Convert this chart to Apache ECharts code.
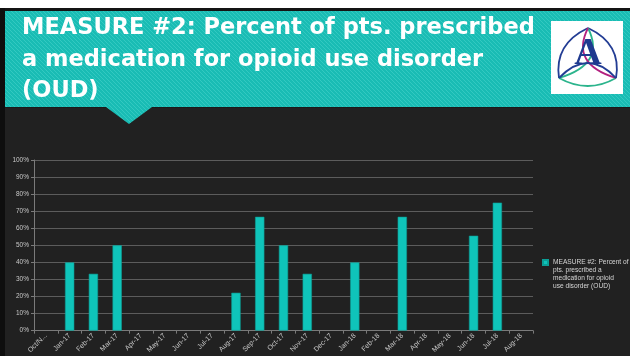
<!DOCTYPE html>
<html>
<head>
<meta charset="utf-8">
<script src="https://cdn.jsdelivr.net/npm/echarts@6/dist/echarts.min.js"></script>
<style>
html,body{margin:0;padding:0;background:#212121;}
#chart{width:630px;height:356px;}
</style>
</head>
<body>
<div id="chart"></div>
<script>
// ---- data ----
const categories = ['Oct/N...', 'Jan-17', 'Feb-17', 'Mar-17', 'Apr-17', 'May-17', 'Jun-17', 'Jul-17',
  'Aug-17', 'Sep-17', 'Oct-17', 'Nov-17', 'Dec-17', 'Jan-18', 'Feb-18', 'Mar-18', 'Apr-18',
  'May-18', 'Jun-18', 'Jul-18', 'Aug-18'];
const values = [null, 40, 33.3, 50, null, null, null, null, 22.2, 66.7, 50, 33.3, null, 40,
  null, 66.7, null, null, 55.6, 75, null];
const seriesName = 'MEASURE #2: Percent of pts. prescribed a medication for opioid use disorder (OUD)';
const legendLines = ['MEASURE #2: Percent of', 'pts. prescribed a', 'medication for opioid', 'use disorder (OUD)'];
const titleLines = ['MEASURE #2: Percent of pts. prescribed', 'a medication for opioid use disorder', '(OUD)'];

// ---- striped teal pattern ----
function makePattern() {
  const c = document.createElement('canvas');
  c.width = 4; c.height = 4;
  const g = c.getContext('2d');
  g.fillStyle = '#19bcb4';
  g.fillRect(0, 0, 4, 4);
  g.strokeStyle = '#33c9c1';
  g.lineWidth = 1;
  g.beginPath();
  g.moveTo(-1, -1); g.lineTo(5, 5);
  g.moveTo(3, -1); g.lineTo(5, 1);
  g.moveTo(-1, 3); g.lineTo(1, 5);
  g.stroke();
  return { image: c, repeat: 'repeat' };
}
const teal = makePattern();

// ---- logo geometry (trinity knot) ----
const tipTop = [588, 28], tipBL = [559, 78], tipBR = [616, 78];
function curve(p, q, c, color) {
  return { type: 'bezierCurve', z: 110,
    shape: { x1: p[0], y1: p[1], x2: q[0], y2: q[1], cpx1: c[0], cpy1: c[1] },
    style: { fill: null, stroke: color, lineWidth: 1.8 } };
}

const graphics = [
  { type: 'rect', shape: { x: 0, y: 0, width: 630, height: 8 }, style: { fill: '#ffffff' }, z: 100 },
  { type: 'rect', shape: { x: 0, y: 8, width: 630, height: 4 }, style: { fill: '#141414' }, z: 100 },
  { type: 'rect', shape: { x: 0, y: 8, width: 5, height: 348 }, style: { fill: '#0e0e0e' }, z: 100 },
  { type: 'rect', shape: { x: 5, y: 11, width: 625, height: 96 }, style: { fill: teal }, z: 100 },
  { type: 'rect', shape: { x: 5, y: 107, width: 625, height: 1 }, style: { fill: '#1a1a1a' }, z: 100 },
  { type: 'polygon', shape: { points: [[106, 107], [152, 107], [129, 124]] }, style: { fill: teal }, z: 100 },
  { type: 'rect', shape: { x: 551, y: 21, width: 72, height: 73 }, style: { fill: '#ffffff' }, z: 101 },
  curve(tipTop, tipBL, [554, 44], '#233d94'),
  curve(tipTop, tipBR, [622, 44], '#233d94'),
  curve(tipBL, tipBR, [588, 94], '#2bb48c'),
  curve(tipBL, tipTop, [606, 64], '#2bb48c'),
  curve(tipBR, tipTop, [570, 64], '#b3207f'),
  curve(tipBL, tipBR, [588, 48], '#233d94'),
  { type: 'text', z: 111, style: { text: 'A', x: 588, y: 73, align: 'center', verticalAlign: 'bottom',
      font: 'bold 38px "Liberation Serif"', fill: '#1f3a8f' } }
];
const titleYs = [28.6, 60, 91.6];
titleLines.forEach((t, i) => {
  graphics.push({ type: 'text', z: 112, style: { text: t, x: 22, y: titleYs[i], verticalAlign: 'middle',
    font: 'bold 22.5px "DejaVu Sans"', fill: '#ffffff' } });
});

const chart = echarts.init(document.getElementById('chart'), null, { renderer: 'canvas' });
chart.setOption({
  backgroundColor: '#212121',
  animation: false,
  graphic: graphics,
  grid: { left: 34, right: 97, top: 160, bottom: 23 },
  legend: {
    left: 542, top: 234.5, padding: 0,
    itemWidth: 5, itemHeight: 5, icon: 'rect',
    data: [seriesName],
    formatter: () => '\n\n\n' + legendLines.join('\n'),
    textStyle: { color: '#d6d6d6', fontSize: 6.6, lineHeight: 8, fontFamily: 'Liberation Sans' }
  },
  xAxis: {
    type: 'category',
    data: categories,
    axisLine: { lineStyle: { color: '#7a7a7a', width: 1 } },
    axisTick: { show: true, length: 3, lineStyle: { color: '#7a7a7a' } },
    axisLabel: { rotate: 45, interval: 0, fontSize: 7, color: '#c8c8c8', fontFamily: 'Liberation Sans', margin: 4 }
  },
  yAxis: {
    type: 'value', min: 0, max: 100, interval: 10,
    axisLine: { show: true, lineStyle: { color: '#7a7a7a' } },
    axisTick: { show: true, length: 3, lineStyle: { color: '#7a7a7a' } },
    splitLine: { lineStyle: { color: '#5c5c5c', width: 1 } },
    axisLabel: { formatter: '{value}%', fontSize: 6.5, color: '#c8c8c8', fontFamily: 'Liberation Sans', margin: 5 }
  },
  series: [{
    name: seriesName,
    type: 'bar',
    data: values,
    barWidth: '39%',
    itemStyle: { color: '#0fc4ba', borderColor: '#0b9e96', borderWidth: 0.6 }
  }]
});
</script>
</body>
</html>
